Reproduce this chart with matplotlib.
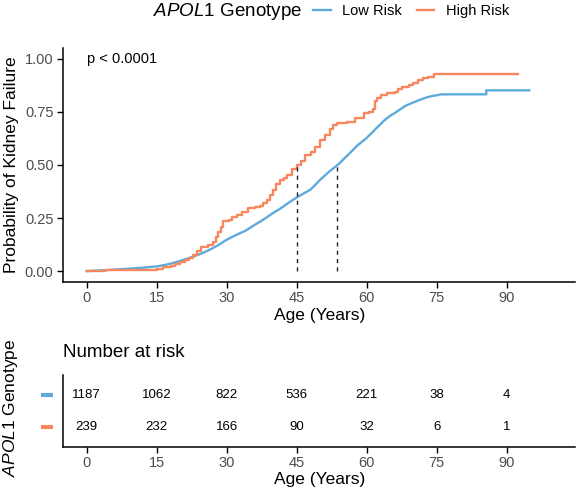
import matplotlib
matplotlib.use("Agg")
import matplotlib.pyplot as plt
import matplotlib.transforms as mtransforms

plt.rcParams["font.family"] = ["Liberation Sans", "DejaVu Sans"]
plt.rcParams["mathtext.fontset"] = "custom"
plt.rcParams["mathtext.rm"] = "Liberation Sans"
plt.rcParams["mathtext.it"] = "Liberation Sans:italic"

BLUE = "#5DAADB"
ORANGE = "#F7875E"
GREY = "#4D4D4D"

groups = ["Low Risk", "High Risk"]

# cumulative incidence (age in years, probability)
# low risk has many tiny steps, so it is read at yearly points
low_age = [0, 2, 4, 6, 8, 10, 12, 14, 15, 16, 17, 18, 19, 20, 21, 22, 23, 24,
           25, 26, 27, 28, 29, 30, 31, 32, 33, 34, 35, 36, 37, 38, 39, 40, 41,
           42, 43, 44, 45, 46, 47, 48, 49, 50, 51, 52, 53, 54, 55, 56, 57, 58,
           59, 60, 61, 62, 63, 64, 65, 66, 67, 68, 69, 70, 71, 72, 73, 74, 75,
           76, 85.6, 85.6, 94.8]
low_prob = [0.0, 0.002, 0.004, 0.007, 0.010, 0.013, 0.016, 0.020, 0.022,
            0.026, 0.030, 0.035, 0.041, 0.048, 0.055, 0.062, 0.070, 0.078,
            0.087, 0.097, 0.108, 0.120, 0.134, 0.148, 0.159, 0.170, 0.180,
            0.190, 0.204, 0.218, 0.231, 0.245, 0.260, 0.275, 0.288, 0.302,
            0.318, 0.333, 0.347, 0.360, 0.372, 0.385, 0.407, 0.430, 0.450,
            0.470, 0.487, 0.505, 0.527, 0.548, 0.570, 0.592, 0.610, 0.628,
            0.650, 0.672, 0.694, 0.715, 0.732, 0.745, 0.760, 0.775, 0.786,
            0.795, 0.804, 0.812, 0.820, 0.825, 0.829, 0.833, 0.833, 0.852,
            0.852]

high_age = [0, 4, 8, 12, 15, 16.4, 18, 19, 20, 21, 22, 22.8, 23.6, 24.6, 26,
            27.1, 27.6, 28.2, 28.8, 29.3, 30.4, 31.2, 32.1, 33.3, 34.6, 36,
            37.1, 37.8, 38.6, 39.3, 40, 40.6, 41.4, 42.2, 42.9, 44, 45, 46,
            46.8, 48, 49, 50, 51, 52.1, 52.8, 53.6, 55.7, 57.5, 59.3, 60.5,
            61.4, 61.8, 62.1, 63, 64.3, 66, 66.6, 67.5, 69, 70, 71, 72, 73.2,
            74.3, 92.4]
high_prob = [0.0, 0.003, 0.006, 0.007, 0.008, 0.020, 0.025, 0.035, 0.044,
             0.050, 0.060, 0.075, 0.096, 0.115, 0.125, 0.138, 0.160, 0.185,
             0.210, 0.237, 0.241, 0.255, 0.264, 0.280, 0.296, 0.300, 0.308,
             0.320, 0.335, 0.360, 0.382, 0.410, 0.429, 0.440, 0.453, 0.480,
             0.500, 0.520, 0.547, 0.560, 0.585, 0.618, 0.640, 0.668, 0.690,
             0.697, 0.704, 0.722, 0.744, 0.750, 0.763, 0.800, 0.815, 0.830,
             0.841, 0.846, 0.860, 0.869, 0.875, 0.888, 0.900, 0.910, 0.917,
             0.931, 0.931]

median_age = [53.6, 45.0]

risk_times = [0, 15, 30, 45, 60, 75, 90]
risk_low = [1187, 1062, 822, 536, 221, 38, 4]
risk_high = [239, 232, 166, 90, 32, 6, 1]

W, H = 578, 493
fig = plt.figure(figsize=(W / 100, H / 100), dpi=100)

left, right = 63.3 / W, 575 / W
ax = fig.add_axes([left, 1 - 281.7 / H, right - left, (281.7 - 48.3) / H])
tab = fig.add_axes([left, 1 - 446.7 / H, right - left, (446.7 - 375) / H])


def style(a):
    for s in ("top", "right"):
        a.spines[s].set_visible(False)
    for s in ("left", "bottom"):
        a.spines[s].set_linewidth(1.1)
    a.tick_params(direction="out", length=4, width=1.0, labelcolor=GREY,
                  labelsize=10.5, pad=3)


style(ax)
ax.plot(low_age, low_prob, color=BLUE, lw=1.7, label=groups[0])
ax.step(high_age, high_prob, where="post", color=ORANGE, lw=1.7, label=groups[1])
for m in median_age:
    ax.plot([m, m], [0, 0.5], ls=(0, (3, 3)), color="#222222", lw=1.0)
ax.text(0, 1.0, "p < 0.0001", ha="left", va="center", fontsize=10.5)
ax.set_xlim(-5, 104.6)
ax.set_ylim(-0.05, 1.05)
ax.set_xticks(risk_times)
ax.set_yticks([0, 0.25, 0.5, 0.75, 1.0])
ax.set_yticklabels(["0.00", "0.25", "0.50", "0.75", "1.00"])
ax.set_xlabel("Age (Years)", fontsize=12.5, labelpad=2)
ax.set_ylabel("Probability of Kidney Failure", fontsize=12.5, labelpad=4)

# legend on top
fig.text(302 / W, 1 - 11 / H, r"$\mathit{APOL}$1 Genotype", ha="right",
         va="center", fontsize=13.5)
fig.legend(loc="center left", bbox_to_anchor=(306 / W, 1 - 11 / H), ncol=2,
           frameon=False, fontsize=10.5, handlelength=1.2, handletextpad=0.8,
           columnspacing=1.0, borderpad=0)

# risk table
style(tab)
rows = [2, 1]
colors = [BLUE, ORANGE]
for row, counts in zip(rows, [risk_low, risk_high]):
    for t, n in zip(risk_times, counts):
        tab.text(t, row, str(n), ha="center", va="center", fontsize=9.5)
tab.set_xlim(-5, 104.6)
tab.set_ylim(0.4, 2.6)
tab.set_xticks(risk_times)
tab.set_yticks([])
tab.set_xlabel("Age (Years)", fontsize=12.5, labelpad=1)
trans = mtransforms.blended_transform_factory(tab.transAxes, tab.transData)
for row, c in zip(rows, colors):
    tab.plot([-0.0436, -0.0195], [row, row], color=c, lw=3, transform=trans,
             clip_on=False, solid_capstyle="butt")
fig.text(63.3 / W, 1 - 352.7 / H, "Number at risk", ha="left", va="center",
         fontsize=13.5)
fig.text(11 / W, 1 - 408 / H, r"$\mathit{APOL}$1 Genotype", ha="center",
         va="center", rotation=90, fontsize=12.5)

fig.savefig("out.png", dpi=100)
